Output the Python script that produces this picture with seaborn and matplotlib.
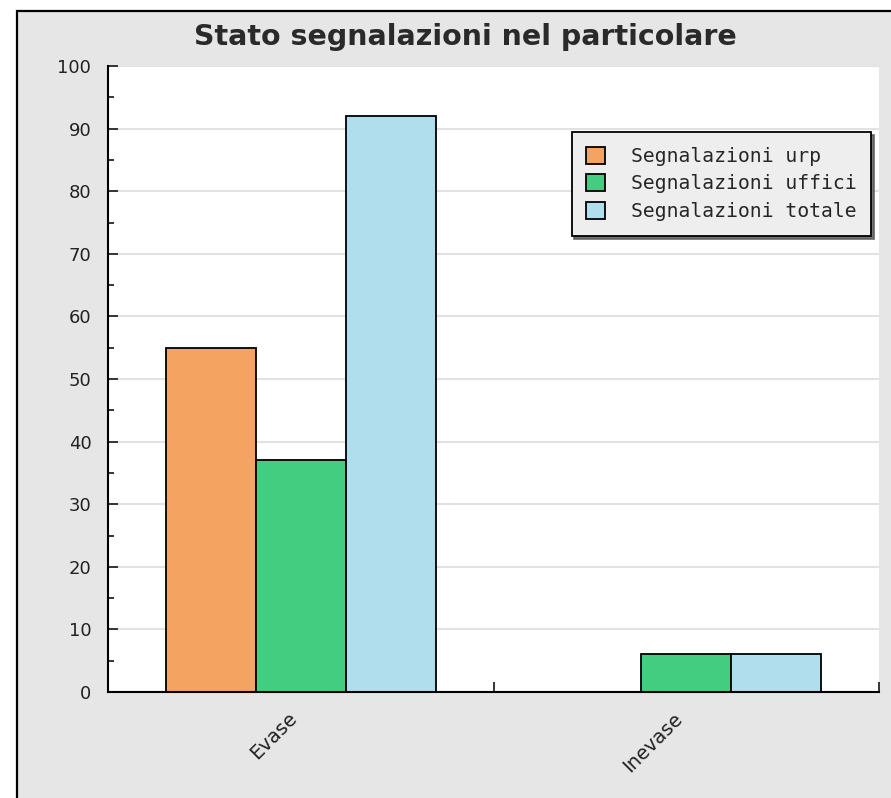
import pandas as pd
import numpy as np
import matplotlib.pyplot as plt
import matplotlib.patches as mpatches
import seaborn as sns

# dati
categorie = ['Evase', 'Inevase']
serie = ['Segnalazioni urp', 'Segnalazioni uffici', 'Segnalazioni totale']
valori_urp = [55, 0]
valori_uffici = [37, 6]
valori_totale = [92, 6]
colori = ['#F4A460', '#43CD80', '#B0DEEC']

df = pd.DataFrame({
    'stato': categorie * 3,
    'serie': [s for s in serie for _ in categorie],
    'valore': valori_urp + valori_uffici + valori_totale,
})

sns.set_style('white')
plt.rcParams['font.family'] = ['DejaVu Sans']

fig = plt.figure(figsize=(8.91, 7.98), dpi=100, facecolor='white')
# cornice grigia con bordo nero
fig.patches.append(mpatches.Rectangle((17 / 891, -0.1), 2, 1.1 - 11 / 798,
                                      transform=fig.transFigure, facecolor='#E6E6E6',
                                      edgecolor='black', linewidth=1.6, zorder=-10))
ax = fig.add_axes([108 / 891, 1 - 692 / 798, 771 / 891, 626 / 798])
ax.set_facecolor('white')

sns.barplot(data=df, x='stato', y='valore', hue='serie', palette=colori,
            width=0.7, edgecolor='black', linewidth=1.3, ax=ax, saturation=1)

ax.set_xlim(-0.5, 1.5)
ax.set_ylim(0, 100)
ax.set_yticks(np.arange(0, 101, 10))
ax.set_yticks(np.arange(5, 100, 10), minor=True)
ax.set_xticks([-0.5, 0.5, 1.5], minor=True)
ax.set_xlabel('')
ax.set_ylabel('')
ax.yaxis.grid(True, color='#E2E2E2', linewidth=1.5)
ax.set_axisbelow(True)

for side in ['top', 'right']:
    ax.spines[side].set_visible(False)
for side in ['left', 'bottom']:
    ax.spines[side].set_color('black')
    ax.spines[side].set_linewidth(1.5)

ax.tick_params(axis='y', which='major', direction='in', length=7.5, width=1.3,
               labelsize=13, labelcolor='#222222', pad=12, left=True)
ax.tick_params(axis='y', which='minor', direction='in', length=4.5, width=1.3, left=True)
ax.tick_params(axis='x', which='major', length=0, labelsize=14, labelcolor='#222222', pad=12)
ax.tick_params(axis='x', which='minor', direction='in', length=7.5, width=1.3, bottom=True)
for lab in ax.get_xticklabels():
    lab.set_rotation(45)
    lab.set_ha('right')
    lab.set_va('top')

leg = ax.legend(loc='upper right', bbox_to_anchor=(0.99, 0.895), borderaxespad=0,
                frameon=True, fancybox=False, shadow={'color': '#555555', 'alpha': 0.8},
                prop={'family': 'DejaVu Sans Mono', 'size': 14.2},
                handlelength=0.95, handleheight=0.95, handletextpad=1.3,
                borderpad=0.75, labelspacing=0.42, title=None)
leg.get_frame().set_facecolor('#EEEEEE')
leg.get_frame().set_edgecolor('black')
leg.get_frame().set_linewidth(1.3)
leg.get_frame().set_alpha(1)

fig.text(465 / 891, 1 - 37 / 798, 'Stato segnalazioni nel particolare',
         ha='center', va='center', fontsize=20.5, fontweight='bold', color='#2A2A2A')

fig.savefig('out.png', dpi=100, facecolor=fig.get_facecolor())
